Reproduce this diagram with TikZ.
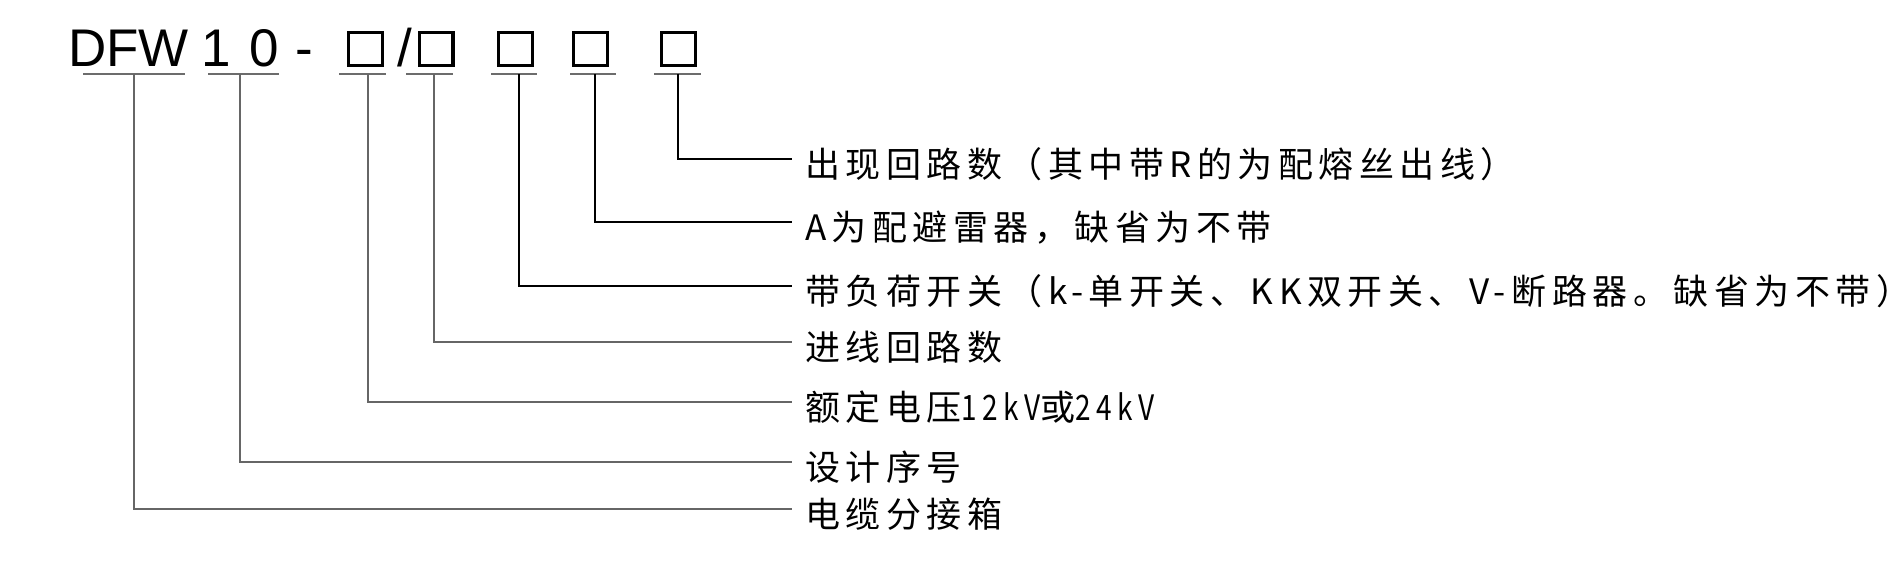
\documentclass[tikz,border=0pt]{standalone}
\usepackage{fontspec}
\setmainfont{Liberation Sans}
\newfontfamily\cjk{Noto Sans CJK SC}[LetterSpace=15.7]
\newfontfamily\cjknarrow{Noto Sans CJK SC}[LetterSpace=15.7,FakeStretch=0.8]
\begin{document}
\begin{tikzpicture}[x=1pt,y=-1pt,
  code/.style={inner sep=0pt,anchor=base,font=\fontsize{53}{60}\selectfont},
  slot/.style={draw=black,line width=3.4pt,minimum width=33.6pt,minimum height=32.6pt,inner sep=0pt},
  uline/.style={draw=gray!85!black,line width=2pt},
  leadA/.style={draw=black,line width=1.4pt},
  leadB/.style={draw=gray!80!black,line width=2pt},
  lab/.style={inner sep=0pt,anchor=base west,font=\cjk\fontsize{35}{40}\selectfont}]
\useasboundingbox (0,0) rectangle (1895,571);
% code text
\node[code] (dfw) at (128.5,66) {DFW};
\node[code] (one) at (216.5,66) {1};
\node[code] (zero) at (264.5,66) {0};
\node[code] (dash) at (304.5,66) {-};
\node[code] (slash) at (405,66) {/};
% slots
\node[slot] (b1) at (365.5,49) {};
\node[slot] (b2) at (436,49) {};
\node[slot] (b3) at (515.5,49) {};
\node[slot] (b4) at (590.5,49) {};
\node[slot] (b5) at (678.5,49) {};
% underlines
\coordinate (u0a) at (83,74);  \coordinate (u0b) at (185,74);
\coordinate (u1a) at (208,74); \coordinate (u1b) at (279,74);
\coordinate (u2a) at (339,74); \coordinate (u2b) at (386,74);
\coordinate (u3a) at (406,74); \coordinate (u3b) at (453,74);
\coordinate (u4a) at (491,74); \coordinate (u4b) at (537,74);
\coordinate (u5a) at (570,74); \coordinate (u5b) at (616,74);
\coordinate (u6a) at (654,74); \coordinate (u6b) at (701,74);
\foreach \i in {0,...,6} {\draw[uline] (u\i a) -- (u\i b);}
% labels
\node[lab] (t5) at (805,177) {出现回路数（其中带R的为配熔丝出线）};
\node[lab] (t4) at (805,240) {A为配避雷器，缺省为不带};
\node[lab] (t3) at (805,304) {带负荷开关（k-单开关、KK双开关、V-断路器。缺省为不带）};
\node[lab] (t2) at (805,360) {进线回路数};
\node[lab] (t1) at (805,420) {额定电压{\cjknarrow 12kV}或{\cjknarrow 24kV}};
\node[lab] (t0b) at (805,480) {设计序号};
\node[lab] (t0a) at (805,527) {电缆分接箱};
% leaders
\coordinate (e5) at (792,159); \coordinate (e4) at (792,222); \coordinate (e3) at (792,286);
\coordinate (e2) at (792,342); \coordinate (e1) at (792,402); \coordinate (e0b) at (792,462);
\coordinate (e0a) at (792,509);
\draw[leadA] (678,74) |- (e5);
\draw[leadA] (595,74) |- (e4);
\draw[leadA] (519,74) |- (e3);
\draw[leadB] (434,74) |- (e2);
\draw[leadB] (368,74) |- (e1);
\draw[leadB] (240,74) |- (e0b);
\draw[leadB] (134,74) |- (e0a);
\end{tikzpicture}
\end{document}
